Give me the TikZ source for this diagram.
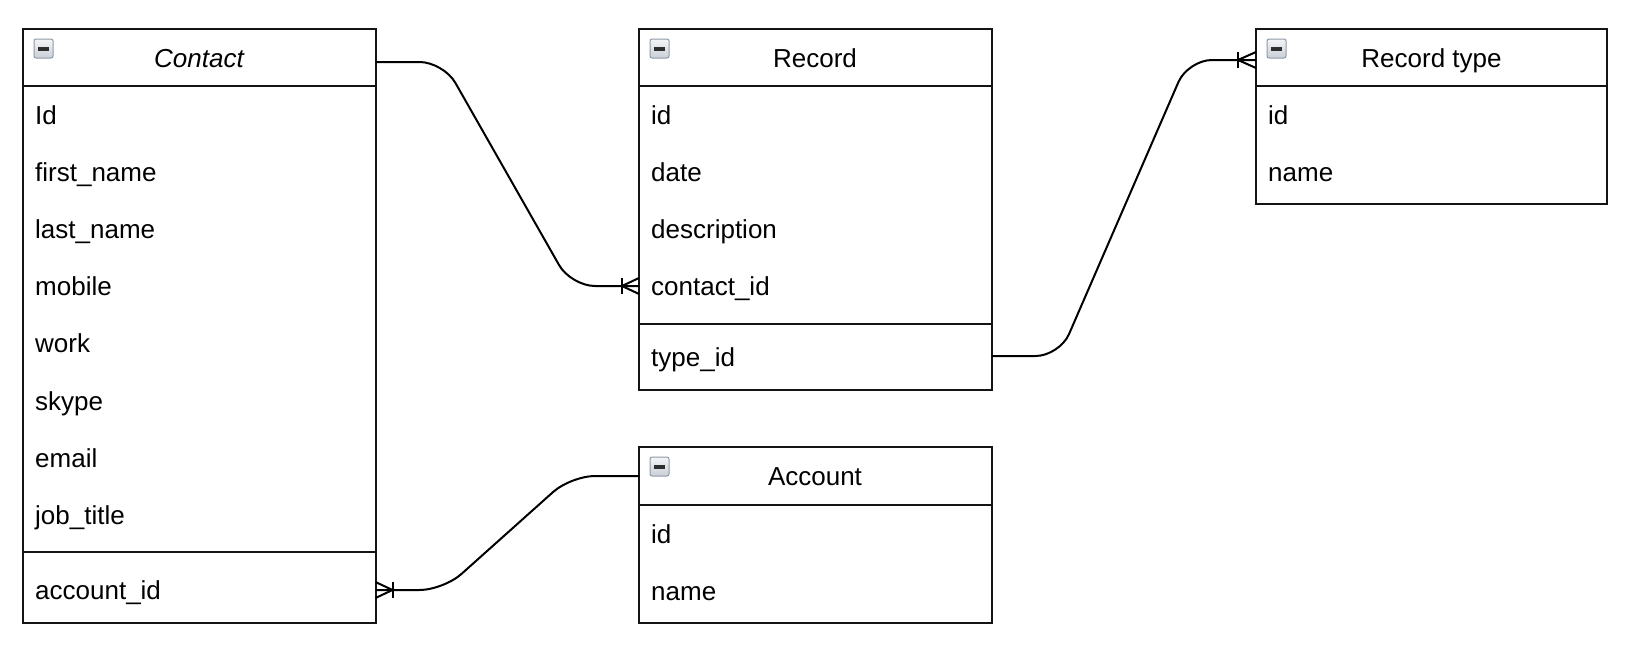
\documentclass[tikz,border=0pt]{standalone}
\usepackage{fontspec}
\setmainfont{Liberation Sans}
\usetikzlibrary{calc}
\newcommand\fsz{\fontsize{26}{30}\selectfont}
\definecolor{iconborder}{HTML}{8E9AA8}
\definecolor{icontop}{HTML}{F4F5F7}
\definecolor{iconbot}{HTML}{C9CED6}
\definecolor{icondash}{HTML}{2E2E2E}
\begin{document}
\begin{tikzpicture}[x=1pt,y=-1pt,
  tbl/.style={draw=black!92, line width=2pt, rectangle, anchor=north west, inner sep=0pt, outer sep=0pt},
  sepline/.style={draw=black!92, line width=2pt},
  fld/.style={anchor=base west, inner sep=0pt, font=\fsz},
  ttl/.style={anchor=base, inner sep=0pt, font=\fsz},
  rel/.style={draw=black, line width=2pt, rounded corners=24pt},
  foot/.style={draw=black, line width=2pt},
  minusbox/.pic={
    \shade[top color=icontop, bottom color=iconbot, draw=iconborder, line width=1pt, rounded corners=2pt] (0,0) rectangle (19,19);
    \fill[icondash] (4,8) rectangle (15,11.5);
  }
]
\useasboundingbox (0,0) rectangle (1634,664);

% ---------- Contact ----------
\node[tbl, minimum width=352.5pt, minimum height=594pt] (contact) at (23,29) {};
\draw[sepline] ([yshift=-57pt]contact.north west) -- ([yshift=-57pt]contact.north east);
\draw[sepline] ([yshift=-523pt]contact.north west) -- ([yshift=-523pt]contact.north east);
\pic at ($(contact.north west)+(11,10)$) {minusbox};
\node[ttl, font=\fsz\itshape] (contactT) at (199,67) {Contact};
\node[fld] (cId)    at (35,124)   {Id};
\node[fld] (cFirst) at (35,181.2) {first\_name};
\node[fld] (cLast)  at (35,238.4) {last\_name};
\node[fld] (cMob)   at (35,295.6) {mobile};
\node[fld] (cWork)  at (35,352.8) {work};
\node[fld] (cSkype) at (35,410)   {skype};
\node[fld] (cMail)  at (35,467.2) {email};
\node[fld] (cJob)   at (35,524.4) {job\_title};
\node[fld] (cAcc)   at (35,599.5) {account\_id};

% ---------- Record ----------
\node[tbl, minimum width=352.5pt, minimum height=360.5pt] (record) at (639,29) {};
\draw[sepline] ([yshift=-57pt]record.north west) -- ([yshift=-57pt]record.north east);
\draw[sepline] ([yshift=-295pt]record.north west) -- ([yshift=-295pt]record.north east);
\pic at ($(record.north west)+(11,10)$) {minusbox};
\node[ttl] (recordT) at (815,67) {Record};
\node[fld] (rId)   at (651,124)   {id};
\node[fld] (rDate) at (651,181.2) {date};
\node[fld] (rDesc) at (651,238.4) {description};
\node[fld] (rCid)  at (651,295.6) {contact\_id};
\node[fld] (rTid)  at (651,366)   {type\_id};

% ---------- Record type ----------
\node[tbl, minimum width=351pt, minimum height=175pt] (rtype) at (1256,29) {};
\draw[sepline] ([yshift=-57pt]rtype.north west) -- ([yshift=-57pt]rtype.north east);
\pic at ($(rtype.north west)+(11,10)$) {minusbox};
\node[ttl] (rtypeT) at (1431.5,67) {Record type};
\node[fld] (tId)   at (1268,124)   {id};
\node[fld] (tName) at (1268,181.2) {name};

% ---------- Account ----------
\node[tbl, minimum width=352.5pt, minimum height=176pt] (account) at (639,447) {};
\draw[sepline] ([yshift=-57.5pt]account.north west) -- ([yshift=-57.5pt]account.north east);
\pic at ($(account.north west)+(11,10)$) {minusbox};
\node[ttl] (accountT) at (815,485) {Account};
\node[fld] (aId)   at (651,543) {id};
\node[fld] (aName) at (651,600) {name};

% ---------- Relations ----------
\coordinate (e1a) at ([yshift=-33pt]contact.north east);
\coordinate (e1b) at ([yshift=-257pt]record.north west);
\draw[rel] (e1a) -- ($(e1a)+(68,0)$) -- ($(e1b)+(-68,0)$) -- (e1b);
\draw[foot] ($(e1b)+(0,-8)$) -- ($(e1b)+(-17,0)$) -- ($(e1b)+(0,8)$);
\draw[foot] ($(e1b)+(-17,-8)$) -- ($(e1b)+(-17,8)$);

\coordinate (e2a) at ([yshift=-327pt]record.north east);
\coordinate (e2b) at ([yshift=-31pt]rtype.north west);
\draw[rel] (e2a) -- ($(e2a)+(68,0)$) -- ($(e2b)+(-68,0)$) -- (e2b);
\draw[foot] ($(e2b)+(0,-8)$) -- ($(e2b)+(-18,0)$) -- ($(e2b)+(0,8)$);
\draw[foot] ($(e2b)+(-18,-8)$) -- ($(e2b)+(-18,8)$);

\coordinate (e3a) at ([yshift=-29pt]account.north west);
\coordinate (e3b) at ([yshift=-561pt]contact.north east);
\draw[rel] (e3a) -- ($(e3a)+(-68,0)$) -- ($(e3b)+(68,0)$) -- (e3b);
\draw[foot] ($(e3b)+(0,-8)$) -- ($(e3b)+(17,0)$) -- ($(e3b)+(0,8)$);
\draw[foot] ($(e3b)+(17,-8)$) -- ($(e3b)+(17,8)$);
\end{tikzpicture}
\end{document}
